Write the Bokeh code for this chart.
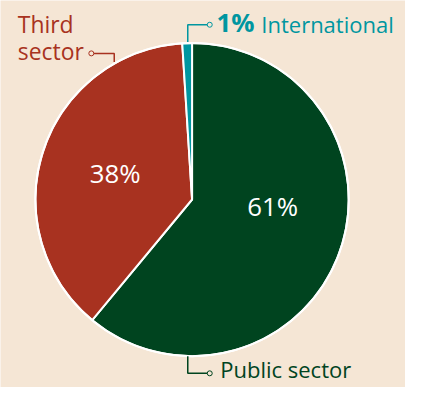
import math
from bokeh.plotting import figure
from bokeh.models import Range1d, ColumnDataSource
from bokeh.core.properties import value
from bokeh.embed import file_html
from bokeh.resources import INLINE

# ---- data ----
categories = ["Public sector", "Third sector", "International"]
shares = [61, 38, 1]
colors = ["#00441F", "#A83220", "#0096A0"]

BG = "#F5E6D5"
FONT = "Open Sans"
W, H = 405, 387
S = 0.955   # reference layout scaled to fit the figure
DY = 2.5    # small upward shift so the bottom label is not clipped

def fx(px):
    return px * S + 2

def fy(py):
    return H - (py * S - DY)

def fs(size):
    return f"{size * S:.1f}px"

def label(x, base, txt, color, size, **kw):
    # place text so that its baseline sits at reference y = base
    p.text(x=[fx(x)], y=[fy(base - 0.36 * size)], text=[txt], text_color=color,
           text_font=value(FONT), text_font_size=fs(size),
           text_baseline="middle", **kw)

p = figure(width=W, height=H, output_backend="svg", toolbar_location=None,
           x_range=Range1d(0, W), y_range=Range1d(0, H), min_border=0)
p.axis.visible = False
p.grid.visible = False
p.outline_line_color = None
p.background_fill_color = BG
p.border_fill_color = BG

cx, cy, r = fx(198.5), fy(211), 164 * S
total = sum(shares)
starts, ends = [], []
cum = 0
for s in shares:
    a0 = math.pi / 2 - (cum + s) / total * 2 * math.pi
    a1 = math.pi / 2 - cum / total * 2 * math.pi
    starts.append(a0)
    ends.append(a1)
    cum += s

src = ColumnDataSource(dict(start=starts, end=ends, color=colors, cat=categories))
p.wedge(x=cx, y=cy, radius=r, start_angle="start", end_angle="end",
        direction="anticlock", fill_color="color", line_color="white",
        line_width=2, source=src)
p.circle(x=cx, y=cy, radius=r, fill_color=None, line_color="white", line_width=2)

# percentage labels inside
label(283, 228, f"{shares[0]}%", "white", 27, text_align="center")
label(118, 193, f"{shares[1]}%", "white", 27, text_align="center")

# Third sector label
label(16, 36, "Third", colors[1], 24)
label(16, 65, "sector", colors[1], 24)
p.line(x=[fx(93), fx(117), fx(117)], y=[fy(58), fy(58), fy(67)],
       line_color=colors[1], line_width=1.5)
p.scatter(x=[fx(93)], y=[fy(58)], size=5, marker="circle", fill_color=BG,
          line_color=colors[1], line_width=1)

# International label
label(224, 35, f"{shares[2]}%", colors[2], 27, text_font_style="bold")
label(271, 35, "International", colors[2], 23)
p.line(x=[fx(194), fx(194), fx(217)], y=[fy(46), fy(28), fy(28)],
       line_color=colors[2], line_width=1.5)
p.scatter(x=[fx(217)], y=[fy(28)], size=5, marker="circle", fill_color=BG,
          line_color=colors[2], line_width=1)

# Public sector label
label(228, 397, "Public sector", colors[0], 23)
p.line(x=[fx(194), fx(194), fx(217)], y=[fy(375), fy(393), fy(393)],
       line_color=colors[0], line_width=1.5)
p.scatter(x=[fx(217)], y=[fy(393)], size=5, marker="circle", fill_color=BG,
          line_color=colors[0], line_width=1)

open("out.html", "w").write(file_html(p, INLINE))
